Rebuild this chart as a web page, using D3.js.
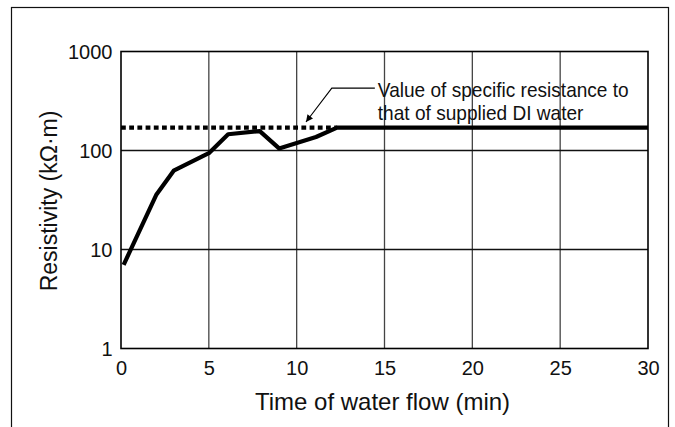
<!DOCTYPE html>
<html>
<head>
<meta charset="utf-8">
<script src="https://cdn.jsdelivr.net/npm/d3@7"></script>
<style>
  html, body { margin: 0; padding: 0; background: #fff; }
  svg { display: block; font-family: "Liberation Sans", Arial, Helvetica, sans-serif; }
</style>
</head>
<body>
<svg id="chart" width="675" height="427"></svg>
<script>
// ---- data ----
const xTicks = [0, 5, 10, 15, 20, 25, 30];
const yTicks = [1, 10, 100, 1000];
const timeMin = [0.15, 2.0, 3.0, 5.0, 6.1, 7.9, 9.0, 11.1, 12.3, 30];
const resistivity = [7.0, 35.5, 62.5, 94, 146, 157, 105, 137, 170, 170];
const supplyLevel = 170;
const supplyRange = [0, 12.3];
const annotationLines = ["Value of specific resistance to", "that of supplied DI water"];
const annotationTip = [10.53, 194];
const annotationKnee = [12.0, 427];
const annotationEndX = 14.45;
const annotationTextX = 14.62;
const xTitle = "Time of water flow (min)";
const yTitle = "Resistivity (kΩ·m)";

// ---- layout ----
const svg = d3.select("#chart");
const m = { left: 121, right: 648, top: 51.5, bottom: 348.5 };

const x = d3.scaleLinear().domain([0, 30]).range([m.left, m.right]);
const y = d3.scaleLog().domain([1, 1000]).range([m.bottom, m.top]);

// outer frame
svg.append("rect")
  .attr("x", 11.5).attr("y", 7.5)
  .attr("width", 657).attr("height", 440)
  .attr("fill", "none").attr("stroke", "#111").attr("stroke-width", 1.2);

// vertical grid
svg.append("g").selectAll("line")
  .data(xTicks.filter(d => d > 0 && d < 30))
  .join("line")
  .attr("x1", d => x(d)).attr("x2", d => x(d))
  .attr("y1", m.top).attr("y2", m.bottom)
  .attr("stroke", "#444").attr("stroke-width", 1.3);

// horizontal grid
svg.append("g").selectAll("line")
  .data(yTicks.filter(d => d > 1 && d < 1000))
  .join("line")
  .attr("x1", m.left).attr("x2", m.right)
  .attr("y1", d => y(d)).attr("y2", d => y(d))
  .attr("stroke", "#111").attr("stroke-width", 1.3);

// plot frame
svg.append("rect")
  .attr("x", m.left).attr("y", m.top)
  .attr("width", m.right - m.left).attr("height", m.bottom - m.top)
  .attr("fill", "none").attr("stroke", "#000").attr("stroke-width", 1.6);

// x axis labels
const xAxis = d3.axisBottom(x).tickValues(xTicks).tickSize(0).tickPadding(0).tickFormat(d3.format("d"));
const gx = svg.append("g").attr("transform", `translate(0,${m.bottom})`).call(xAxis);
gx.select(".domain").remove();
gx.selectAll("text")
  .attr("y", 26).attr("dy", null)
  .attr("font-size", 20).attr("fill", "#111")
  .attr("font-family", "Liberation Sans, Arial, sans-serif");

// y axis labels
const yAxis = d3.axisLeft(y).tickValues(yTicks).tickSize(0).tickPadding(8.5).tickFormat(d3.format("d"));
const gy = svg.append("g").attr("transform", `translate(${m.left},0)`).call(yAxis);
gy.select(".domain").remove();
gy.selectAll("text")
  .attr("dy", "0.36em")
  .attr("font-size", 20).attr("fill", "#111")
  .attr("font-family", "Liberation Sans, Arial, sans-serif");

// dashed supply line
svg.append("line")
  .attr("x1", x(supplyRange[0])).attr("x2", x(supplyRange[1]))
  .attr("y1", y(supplyLevel)).attr("y2", y(supplyLevel))
  .attr("stroke", "#000").attr("stroke-width", 4.2)
  .attr("stroke-dasharray", "4.8,3.4");

// main curve
const pts = timeMin.map((t, i) => [t, resistivity[i]]);
svg.append("path")
  .datum(pts)
  .attr("d", d3.line().x(d => x(d[0])).y(d => y(d[1])))
  .attr("fill", "none").attr("stroke", "#000")
  .attr("stroke-width", 4.2).attr("stroke-linejoin", "round");

// annotation arrow
const defs = svg.append("defs");
defs.append("marker")
  .attr("id", "arrow").attr("viewBox", "0 0 10 10")
  .attr("refX", 10).attr("refY", 5)
  .attr("markerWidth", 9).attr("markerHeight", 7)
  .attr("markerUnits", "userSpaceOnUse")
  .attr("orient", "auto")
  .append("path").attr("d", "M0,0 L10,5 L0,10 Z").attr("fill", "#000");

const leader = [[annotationEndX, annotationKnee[1]], annotationKnee, annotationTip];
svg.append("path")
  .attr("d", d3.line().x(d => x(d[0])).y(d => y(d[1]))(leader))
  .attr("fill", "none").attr("stroke", "#000").attr("stroke-width", 1.1)
  .attr("marker-end", "url(#arrow)");

// annotation text (one wrapped text block)
const ax = x(annotationTextX);
const baseY = y(annotationKnee[1]) + 8.5;
const note = svg.append("text")
  .attr("transform", `translate(${ax},${baseY}) scale(0.94,1)`)
  .attr("font-size", 20.3).attr("fill", "#111");
annotationLines.forEach((s, i) => {
  note.append("tspan")
    .attr("x", 0).attr("y", i * 23.5)
    .text(s);
});

// axis titles
svg.append("text")
  .attr("x", (m.left + m.right) / 2 - 2).attr("y", 410)
  .attr("text-anchor", "middle")
  .attr("font-size", 24).attr("fill", "#111")
  .text(xTitle);

svg.append("text")
  .attr("transform", `translate(56.5,${(m.top + m.bottom) / 2 + 1}) rotate(-90)`)
  .attr("text-anchor", "middle")
  .attr("font-size", 23).attr("fill", "#111")
  .text(yTitle);
</script>
</body>
</html>
